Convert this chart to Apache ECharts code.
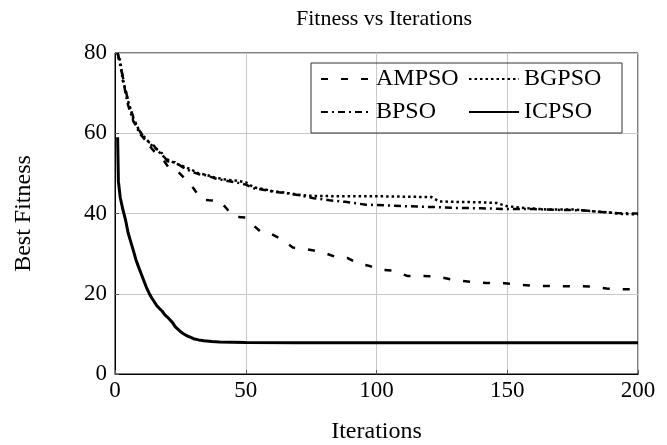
<!DOCTYPE html>
<html>
<head>
<meta charset="utf-8">
<script src="https://cdn.jsdelivr.net/npm/echarts@6/dist/echarts.min.js"></script>
<style>
  html, body { margin: 0; padding: 0; background: #fff; }
  #chart { width: 667px; height: 445px; }
</style>
</head>
<body>
<div id="chart"></div>
<script>
// values (iteration, best fitness)
var ampsoIter = [1, 3, 5, 7, 9, 11, 13, 15, 18, 21, 24, 27, 30, 33, 36, 40, 43, 45, 50, 53, 56, 60, 64, 68, 72, 76, 80, 85, 89, 93, 97, 101, 106, 112, 118, 123, 130, 136, 142, 149, 155, 160, 167, 175, 182, 188, 193, 200]
var ampsoFit  = [80, 74, 68, 64, 61, 59, 57, 55.5, 53.8, 51, 50.5, 48.5, 46.3, 43.5, 43.3, 43.2, 41, 39.2, 39, 37, 35.3, 34.8, 33.5, 31.5, 31.2, 30.8, 30.2, 29, 28.9, 27.5, 27, 26, 25.8, 24.4, 24.4, 24.3, 23.4, 23, 22.7, 22.6, 22.2, 22, 21.9, 21.9, 21.8, 21.3, 21.1, 21.1]

var bgpsoIter = [1, 2, 3, 4, 5, 6, 7, 8, 9, 10, 12, 14, 16, 18, 20, 23, 26, 29, 32, 35, 38, 42, 46, 50, 53, 56, 60, 65, 70, 75, 85, 100, 110, 121, 124, 130, 140, 146, 150, 158, 165, 175, 182, 188, 194, 200]
var bgpsoFit  = [80, 78, 73, 71, 68, 66, 63.5, 62.5, 61, 60, 58.5, 57, 56, 54.5, 53.5, 52.5, 51.8, 51, 50, 49.6, 49, 48.5, 48.2, 47.8, 46.5, 46.2, 45.6, 45.2, 44.7, 44.4, 44.3, 44.3, 44.2, 44.1, 43, 42.9, 42.8, 42.6, 41.8, 41.3, 41, 41, 40.6, 40.3, 39.9, 39.8]

var bpsoIter = [1, 2, 3, 4, 5, 6, 7, 8, 9, 10, 12, 14, 16, 18, 20, 23, 26, 29, 32, 35, 38, 42, 46, 50, 53, 56, 60, 65, 70, 76, 82, 88, 96, 104, 112, 122, 130, 140, 150, 160, 170, 178, 186, 192, 200]
var bpsoFit  = [80, 77, 74, 70, 67, 65, 63, 62, 60.5, 59.5, 58, 57.5, 56, 55, 53, 52.8, 51.5, 50.5, 49.8, 49.5, 48.8, 48.2, 47.8, 47.2, 46.3, 46, 45.5, 45.1, 44.6, 43.8, 43.3, 42.9, 42.2, 42, 41.8, 41.6, 41.4, 41.3, 41.1, 41.1, 40.9, 40.8, 40.4, 40.1, 40]

var icpsoIter = [1, 1.3, 2, 3, 4, 5, 6, 7, 8, 9, 10, 11, 12, 13, 14, 15, 16, 17, 18, 19, 20, 21, 22, 23, 24, 25, 26, 27, 28, 29, 30, 32, 34, 37, 40, 45, 50, 70, 100, 200]
var icpsoFit  = [59, 48, 44, 41, 38.5, 35.2, 33, 30.8, 28.5, 26.7, 25, 23.3, 21.6, 20.2, 19, 18, 17, 16.3, 15.7, 14.8, 14.2, 13.5, 12.8, 11.8, 11.2, 10.6, 10.1, 9.7, 9.4, 9.1, 8.8, 8.5, 8.3, 8.1, 7.95, 7.9, 7.85, 7.8, 7.8, 7.8]

var xTicks = [0, 50, 100, 150, 200]
var yTicks = [0, 20, 40, 60, 80]

function pairs(xs, ys) {
    var out = []
    for (var i in xs) {
        out.push([xs[i], ys[i]])
    }
    return out
}

var font = 'Liberation Serif'
var legendText = { fontFamily: font, fontSize: 24, color: '#000', lineHeight: 26 }

var chart = echarts.init(document.getElementById('chart'))
var option = {
    animation: false,
    backgroundColor: '#fff',
    textStyle: { fontFamily: font, color: '#000' },
    title: {
        text: 'Fitness vs Iterations',
        left: 379,
        top: 3,
        textAlign: 'center',
        textStyle: { fontFamily: font, fontSize: 22, fontWeight: 'normal', color: '#000' }
    },
    grid: {
        left: 115, right: 29, top: 53, bottom: 71,
        outerBoundsMode: 'none',
        containLabel: false,
        show: true,
        borderColor: '#000',
        borderWidth: 1
    },
    legend: [
        {
            data: ['AMPSO', 'BPSO'],
            orient: 'vertical',
            left: 320, top: 66,
            padding: 0,
            itemWidth: 50, itemHeight: 14, itemGap: 7,
            itemStyle: { opacity: 0 },
            textStyle: legendText
        },
        {
            data: ['BGPSO', 'ICPSO'],
            orient: 'vertical',
            left: 468, top: 66,
            padding: 0,
            itemWidth: 50, itemHeight: 14, itemGap: 7,
            itemStyle: { opacity: 0 },
            textStyle: legendText
        }
    ],
    graphic: [{
        type: 'rect',
        shape: { x: 311, y: 63, width: 311, height: 70 },
        style: { fill: 'rgba(255,255,255,0)', stroke: '#333', lineWidth: 1 },
        z: 5
    }],
    xAxis: {
        type: 'value',
        min: 0, max: 200, interval: 50,
        name: 'Iterations',
        nameLocation: 'middle',
        nameGap: 46,
        nameTextStyle: { fontFamily: font, fontSize: 24, color: '#000' },
        axisLine: { lineStyle: { color: '#000', width: 1 } },
        axisTick: { inside: true, length: 4, lineStyle: { color: '#555' } },
        axisLabel: {
            fontFamily: font, fontSize: 23, color: '#000', margin: 5,
            formatter: function (v) { return xTicks.indexOf(v) >= 0 ? v : '' }
        },
        splitLine: { show: true, lineStyle: { color: '#c8c8c8', width: 1 } }
    },
    yAxis: {
        type: 'value',
        min: 0, max: 80, interval: 20,
        name: 'Best Fitness',
        nameLocation: 'middle',
        nameGap: 79,
        nameRotate: 90,
        nameTextStyle: { fontFamily: font, fontSize: 24, color: '#000' },
        axisLine: { show: true, lineStyle: { color: '#000', width: 1 } },
        axisTick: { show: true, inside: true, length: 4, lineStyle: { color: '#555' } },
        axisLabel: {
            fontFamily: font, fontSize: 23, color: '#000', margin: 8,
            formatter: function (v) { return yTicks.indexOf(v) >= 0 ? v : '' }
        },
        splitLine: { show: true, lineStyle: { color: '#c8c8c8', width: 1 } }
    },
    series: [
        {
            name: 'AMPSO', type: 'line', symbol: 'none',
            data: pairs(ampsoIter, ampsoFit),
            color: '#000',
            lineStyle: { color: '#000', width: 2.5, type: [7, 13] }
        },
        {
            name: 'BGPSO', type: 'line', symbol: 'none',
            data: pairs(bgpsoIter, bgpsoFit),
            color: '#000',
            lineStyle: { color: '#000', width: 2.5, type: [2.5, 3] }
        },
        {
            name: 'BPSO', type: 'line', symbol: 'none',
            data: pairs(bpsoIter, bpsoFit),
            color: '#000',
            lineStyle: { color: '#000', width: 2.5, type: [7, 4, 2, 4] }
        },
        {
            name: 'ICPSO', type: 'line', symbol: 'none',
            data: pairs(icpsoIter, icpsoFit),
            color: '#000',
            lineStyle: { color: '#000', width: 3 }
        }
    ]
}
chart.setOption(option)
</script>
</body>
</html>
